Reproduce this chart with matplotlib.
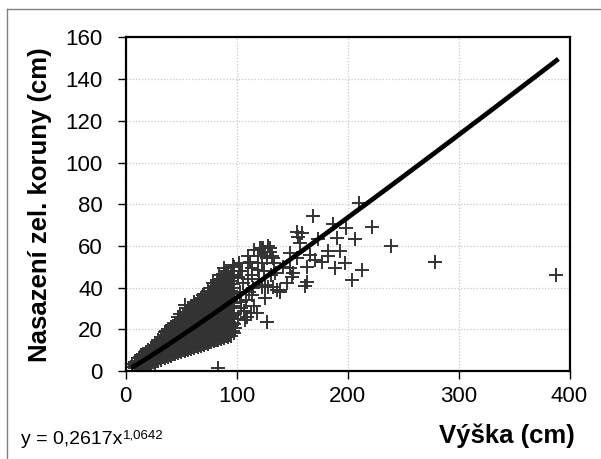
import numpy as np
import matplotlib
matplotlib.use("Agg")
import matplotlib.pyplot as plt
from matplotlib.lines import Line2D

plt.rcParams['font.family'] = ['Liberation Sans', 'DejaVu Sans']

# Dense part of the cloud: height columns and the crown-base values measured at each
core_x = [6, 8, 10, 12, 14, 16, 18, 20, 23, 26, 29, 32, 35, 38, 41, 44, 47, 50,
          53, 56, 59, 62, 65, 68, 71, 74, 77, 80, 83, 86, 89, 92, 95, 98]
core_y = [
    [2, 3.5],
    [1.5, 3, 4.5],
    [2, 3.5, 5],
    [2.5, 4, 6],
    [2, 3.5, 5, 7.5],
    [3, 4.5, 6, 8],
    [2.5, 4, 5.5, 7, 9],
    [3, 5, 6.5, 8, 10],
    [3.5, 5.5, 7, 9, 11],
    [4, 6, 8, 10, 12.5],
    [5, 7, 9, 11, 13, 15],
    [5.5, 7.5, 9.5, 11.5, 13.5, 16.5],
    [6, 8, 10, 12, 14, 16, 18.5],
    [6.5, 9, 11, 13, 15, 17, 20],
    [7, 9.5, 12, 14, 16, 18, 21],
    [8, 10.5, 13, 15, 17, 19.5, 23],
    [8.5, 11, 13.5, 16, 18, 20.5, 24, 26],
    [9, 12, 14.5, 17, 19.5, 22, 25.5],
    [9.5, 12.5, 15, 17.5, 20, 22.5, 26.5, 31.6],
    [10, 13, 16, 18.5, 21, 23.5, 27, 30],
    [10.5, 13.5, 16.5, 19, 21.5, 24.5, 28, 31],
    [11, 14, 17, 20, 22.5, 25.5, 29, 33],
    [11.5, 15, 18, 21, 23.5, 26.5, 30, 34],
    [12, 15.5, 18.5, 21.5, 24.5, 27.5, 31, 35],
    [12.5, 16, 19.5, 22.5, 25.5, 29, 32.5, 37],
    [13, 17, 20.5, 23.5, 27, 30, 34, 38.5],
    [14, 17.5, 21, 24.5, 28, 31.5, 35, 40],
    [14.5, 18, 22, 25.5, 29, 32.5, 36.5, 41],
    [15, 19, 22.5, 26, 30, 33.5, 37.5, 42.5],
    [15.5, 19.5, 23.5, 27, 31, 35, 39, 44],
    [16, 20, 24, 28, 32, 36, 40, 45.5, 49.2],
    [16.5, 21, 25, 29, 33, 37, 41.5, 47],
    [17, 21.5, 26, 30, 34, 38.5, 43, 48],
    [18, 22.5, 27, 31, 35.5, 40, 44.5, 50],
]

# Further trees of the dense part, measured between the columns above
fill_x = [9, 13, 17, 21.5, 24.5, 27.5, 30.5, 33.5, 36.5, 39.5, 42.5, 45.5, 48.5,
          51.5, 54.5, 57.5, 60.5, 63.5, 66.5, 69.5, 72.5, 75.5, 78.5, 81.5, 84.5,
          87.5, 90.5, 93.5, 96.5]
fill_y = [
    [2.5, 4],
    [3, 5, 6.5],
    [3.5, 5, 7],
    [4, 6, 7.5, 9.5],
    [4.5, 6.5, 8.5, 11],
    [5, 7.5, 10, 12],
    [6, 8, 10, 12, 14.5],
    [6.5, 9, 11, 13, 15.5],
    [7, 9.5, 11.5, 14, 16.5, 19],
    [7.5, 10, 12.5, 15, 17.5, 19.5],
    [8, 11, 13.5, 16, 18.5, 21.5],
    [9, 11.5, 14, 16.5, 19, 22],
    [9.5, 12.5, 15, 17.5, 20, 23, 27.5],
    [10, 13, 15.5, 18.5, 21, 24],
    [10.5, 14, 17, 19.5, 22, 25, 28.5],
    [11, 14.5, 17.5, 20.5, 23, 26, 29.5],
    [11.5, 15, 18.5, 21, 24, 27, 30.5],
    [12, 15.5, 19, 22, 25, 28, 31.5],
    [12.5, 16.5, 19.5, 23, 26, 29, 33],
    [13, 17, 20.5, 24, 27, 30.5, 34, 36.5],
    [13.5, 17.5, 21, 25, 28.5, 31.5, 35.5],
    [14, 18.5, 22, 26, 29.5, 33, 37],
    [15, 19, 23, 27, 30.5, 34, 38, 42],
    [15, 19.5, 23.5, 27.5, 31.5, 35, 39],
    [16, 20.5, 24.5, 28.5, 32.5, 36.5, 40.5, 46],
    [16.5, 21, 25, 29.5, 33.5, 37.5, 42],
    [17, 22, 26, 30, 34.5, 38.5, 43, 48],
    [17.5, 22.5, 27, 31, 35.5, 40, 44.5],
    [19, 23, 28, 32.5, 37, 41.5, 46, 51],
]

# Trees between 100 and 140 cm
mid_pts = [
    (98.5, 20.5), (101, 45), (102, 52), (103, 38), (104, 30), (105, 48),
    (106, 42), (107.5, 24.4), (108, 34), (110, 55), (110.5, 51.6), (110, 44),
    (112, 52.4), (113, 28), (113.5, 49.2), (113.5, 36.4), (114, 46), (115, 40),
    (116, 58), (118, 27.6), (119.5, 48.4), (119.5, 55), (120, 44), (121, 59),
    (122.5, 40.4), (122.5, 58.8), (123, 52), (124, 58.8), (125, 48),
    (125.5, 57.2), (125.5, 41.2), (126, 35), (127, 23.6), (127, 54), (128, 60),
    (128.5, 40.4), (130, 57), (130, 58.8), (131, 46), (132, 55), (133, 54),
    (133, 40.4), (134, 52), (135, 47), (136, 38.8), (139, 38), (101, 25),
    (104, 33), (107, 29), (111, 38), (116, 31), (103, 48), (109, 26), (82, 43.6),
]

# Sparse tall trees and outliers
outer_pts = [
    (83, 1.3), (139, 38.8), (142, 50), (145, 42), (148, 49.2), (149.5, 45.2),
    (151, 46.8), (148, 56.4), (154, 54), (154, 66.7), (155.5, 64.3), (158.5, 66),
    (157, 61.2), (161.5, 41), (163, 42.5), (163, 50), (166, 55.6), (168.5, 74.6),
    (170.5, 53.2), (173.5, 63.1), (176.6, 52.4), (182, 55), (182.5, 57.5),
    (187, 70.7), (188.6, 49.2), (190.6, 64), (193, 57.5), (197.6, 51.6),
    (199, 68.4), (203.6, 43.6), (206.6, 63.1), (210.5, 80.6), (212.6, 48.4),
    (222, 69), (239.3, 60), (279, 52.4), (388, 46),
]

# Power-law fit
fit_a = 0.2617
fit_b = 1.0642
fit_range = (5, 390)

x_ticks = [0, 100, 200, 300, 400]
y_ticks = [0, 20, 40, 60, 80, 100, 120, 140, 160]

xs, ys = [], []
for cx, cy in list(zip(core_x, core_y)) + list(zip(fill_x, fill_y)):
    xs += [cx] * len(cy)
    ys += cy
xs += [p[0] for p in mid_pts] + [p[0] for p in outer_pts]
ys += [p[1] for p in mid_pts] + [p[1] for p in outer_pts]

fig = plt.figure(figsize=(6.01, 4.59), dpi=100)
W, H = 601, 459
ax = fig.add_axes([125.7 / W, 1 - 371 / H, (569.5 - 125.7) / W, (371 - 37.5) / H])

ax.plot(xs, ys, linestyle='none', marker='+', markersize=10.5, markeredgewidth=1.4,
        color='#333333', zorder=2)

fx = np.linspace(fit_range[0], fit_range[1], 300)
ax.plot(fx, fit_a * fx ** fit_b, color='black', linewidth=3.4,
        solid_capstyle='butt', zorder=3)

ax.set_xlim(0, 400)
ax.set_ylim(0, 160)
ax.set_xticks(x_ticks)
ax.set_yticks(y_ticks)
ax.grid(True, color='#c8c8c8', linestyle=(0, (1, 1.5)), linewidth=0.9, zorder=0)
ax.set_axisbelow(True)
for s in ax.spines.values():
    s.set_linewidth(1.6)
    s.set_color('black')
ax.tick_params(direction='out', length=5.5, width=1.0, labelsize=16, colors='black')
ax.tick_params(axis='y', pad=11)
ax.tick_params(axis='x', pad=5)

ax.set_ylabel('Nasazení zel. koruny (cm)', fontsize=18.5, fontweight='bold', labelpad=10)
fig.text(575 / W, 1 - 443 / H, 'Výška (cm)', fontsize=18.5, fontweight='bold',
         ha='right', va='baseline')

eq = fig.text(21 / W, 1 - 443.5 / H, 'y = 0,2617x', fontsize=14, ha='left', va='baseline')
fig.canvas.draw()
bb = eq.get_window_extent()
fig.text((bb.x1 + 1) / W, 1 - 438 / H, '1,0642', fontsize=9.5, ha='left', va='baseline')

# Frame around the chart area
fig.add_artist(Line2D([6.5 / W, 6.5 / W], [0, 1 - 9 / H], transform=fig.transFigure,
                      color='#808080', linewidth=1.0))
fig.add_artist(Line2D([6.5 / W, 1], [1 - 9 / H, 1 - 9 / H], transform=fig.transFigure,
                      color='#808080', linewidth=1.0))

fig.savefig('out.png', dpi=100)
